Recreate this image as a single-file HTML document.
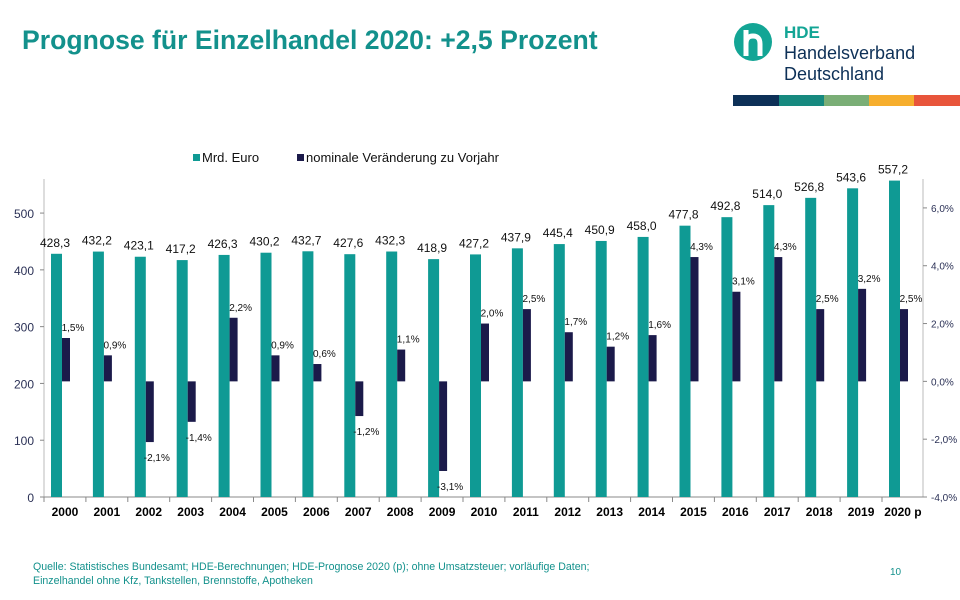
<!DOCTYPE html>
<html><head><meta charset="utf-8"><style>
body{margin:0;background:#fff;width:960px;height:600px;overflow:hidden;font-family:"Liberation Sans",sans-serif;}
svg{position:absolute;left:0;top:0}
</style></head><body>
<svg width="960" height="600">
<text x="22" y="49" font-size="26.6" font-weight="bold" fill="#13918c">Prognose für Einzelhandel 2020: +2,5 Prozent</text>
<g>
<circle cx="753" cy="42" r="19" fill="#13a595"/>
<path d="M746 30 v26 M746 44 q0 -8 7 -8 q7 0 7 8 v12" stroke="#fff" stroke-width="5" fill="none"/>
<text x="784" y="38" font-size="17" font-weight="bold" fill="#13a595">HDE</text>
<text x="784" y="59" font-size="18" fill="#0d3057">Handelsverband</text>
<text x="784" y="80" font-size="18" fill="#0d3057">Deutschland</text>
<rect x="733" y="95" width="46" height="11" fill="#0d3057"/>
<rect x="779" y="95" width="45" height="11" fill="#16897f"/>
<rect x="824" y="95" width="45" height="11" fill="#7aae76"/>
<rect x="869" y="95" width="45" height="11" fill="#f6ae2d"/>
<rect x="914" y="95" width="46" height="11" fill="#e8553b"/>
</g>
<g>
<rect x="193" y="154" width="7" height="7" fill="#0f9a94"/>
<text x="202" y="162" font-size="13" fill="#111">Mrd. Euro</text>
<rect x="297" y="154" width="7" height="7" fill="#1b1a4a"/>
<text x="306" y="162" font-size="13" fill="#111">nominale Veränderung zu Vorjahr</text>
</g>
<g id="plot"></g>
<text x="33" y="570" font-size="10.6" fill="#13918c">Quelle: Statistisches Bundesamt; HDE-Berechnungen; HDE-Prognose 2020 (p); ohne Umsatzsteuer; vorläufige Daten;</text>
<text x="33" y="584" font-size="10.6" fill="#13918c">Einzelhandel ohne Kfz, Tankstellen, Brennstoffe, Apotheken</text>
<text x="890" y="575" font-size="10" fill="#13918c">10</text>
</svg>
<script>
const categories=["2000","2001","2002","2003","2004","2005","2006","2007","2008","2009","2010","2011","2012","2013","2014","2015","2016","2017","2018","2019","2020p"];
const sales=[428.3,432.2,423.1,417.2,426.3,430.2,432.7,427.6,432.3,418.9,427.2,437.9,445.4,450.9,458.0,477.8,492.8,514.0,526.8,543.6,557.2];
const changes=[1.5,0.9,-2.1,-1.4,2.2,0.9,0.6,-1.2,1.1,-3.1,2.0,2.5,1.7,1.2,1.6,4.3,3.1,4.3,2.5,3.2,2.5];
const leftTicks=[0,100,200,300,400,500];
const rightTicks=[-4,-2,0,2,4,6];
const NS="http://www.w3.org/2000/svg";
const g=document.getElementById('plot');
const X0=44,BW=41.9,YB=497,YT=179,XR=923;
const yL=v=>YB-(v/560)*(YB-YT);
const yR=v=>YB-((v+4)/11)*(YB-YT);
const fmt=(v,d)=>v.toFixed(d).replace('.',',');
function mk(t,a,txt){const e=document.createElementNS(NS,t);for(const k in a)e.setAttribute(k,a[k]);if(txt!=null)e.textContent=txt;g.appendChild(e);return e;}
let e;
e=mk('line',{x1:X0,y1:YT,x2:X0,y2:YB,stroke:'#bbb'});


e=mk('line',{x1:XR,y1:YT,x2:XR,y2:YB,stroke:'#bbb'});


e=mk('line',{x1:X0,y1:YB,x2:X0+BW*21,y2:YB,stroke:'#888'});


leftTicks.forEach(v=>{
 e=mk('text',{x:34,y:yL(v)+5,'font-size':12,fill:'#2b3156','text-anchor':'end'},String(v));
 
 
 mk('line',{x1:X0-4,y1:yL(v),x2:X0,y2:yL(v),stroke:'#888'});
});
rightTicks.forEach(v=>{
 e=mk('text',{x:931,y:yR(v)+4,'font-size':10,fill:'#2b3156'},fmt(v,1)+'%');
 
 
 mk('line',{x1:XR,y1:yR(v),x2:XR+4,y2:yR(v),stroke:'#888'});
});
categories.forEach((c,i)=>{
 const bx=X0+BW*i;
 mk('line',{x1:bx,y1:YB,x2:bx,y2:YB+5,stroke:'#888'});
 e=mk('text',{x:bx+BW/2,y:YB+19,'font-size':12,'font-weight':'bold',fill:'#000','text-anchor':'middle'},c.replace('p',' p'));
 
 
 const ty=yL(sales[i]);
 e=mk('rect',{x:bx+7,y:ty,width:11,height:YB-ty,fill:'#0f9a94'});
 
 
 e=mk('text',{x:bx+11,y:ty-7,'font-size':12,fill:'#111','text-anchor':'middle'},fmt(sales[i],1));
 
 
 const y0=yR(0),y1=yR(changes[i]);
 e=mk('rect',{x:bx+18,y:Math.min(y0,y1),width:8,height:Math.abs(y1-y0),fill:'#1b1a4a'});
 
 
 const ly=changes[i]>=0?y1-7:y1+19;
 e=mk('text',{x:bx+29,y:ly,'font-size':10,fill:'#111','text-anchor':'middle'},fmt(changes[i],1)+'%');
 
 
});
</script>
</body></html>
